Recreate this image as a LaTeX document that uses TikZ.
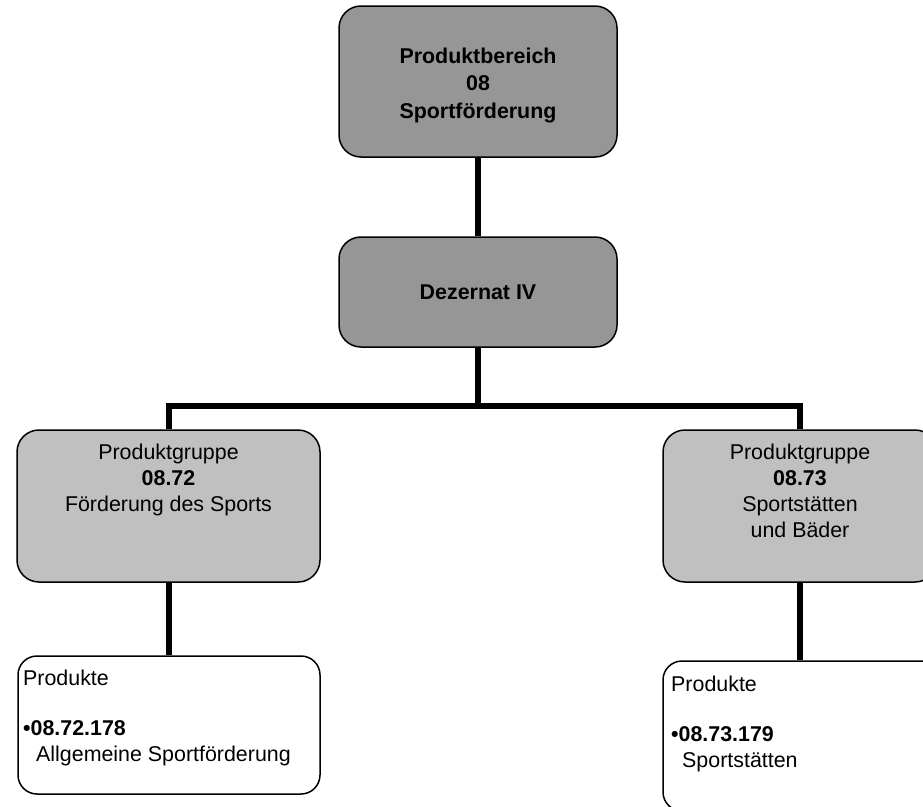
\documentclass[tikz,border=0pt]{standalone}
\usepackage{fontspec}
\setmainfont{Liberation Sans}
\definecolor{darkfill}{RGB}{150,150,150}
\definecolor{lightfill}{RGB}{192,192,192}
\begin{document}
\begin{tikzpicture}[x=1pt,y=-1pt,
  box/.style={draw=black, line width=1.5pt, rounded corners=22pt, inner sep=0pt, align=center},
  dark/.style={box, fill=darkfill, font=\bfseries\fontsize{21.4}{27.5}\selectfont},
  light/.style={box, fill=lightfill},
  prod/.style={box, fill=white, rounded corners=19pt},
  conn/.style={line width=6pt, line join=miter},
  txt/.style={font=\fontsize{21.4}{26}\selectfont, inner sep=0pt, align=center}
]
\clip (0,0) rectangle (923,806);
% boxes
\node[dark, minimum width=278pt, minimum height=151pt] (pb) at (478,81.5) {};
\node[dark, minimum width=278pt, minimum height=110pt] (dez) at (478,292) {Dezernat IV};
\node[light, minimum width=303pt, minimum height=152pt] (pgl) at (168.5,506) {};
\node[light, minimum width=274pt, minimum height=152pt] (pgr) at (800,506) {};
\node[prod, minimum width=302pt, minimum height=138pt] (prl) at (169,725) {};
\node[prod, minimum width=278pt, minimum height=150pt] (prr) at (802,736) {};
% connectors
\coordinate (bus) at (478,406);
\draw[conn] (pb.south) -- (dez.north);
\draw[conn] (dez.south) -- (bus);
\draw[conn] (pgl.north) |- (bus) -| (pgr.north);
\draw[conn] (pgl.south) -- (pgl.south |- prl.north);
\draw[conn] (pgr.south) -- (pgr.south |- prr.north);
% texts
\node[txt, font=\bfseries\fontsize{21.4}{27.5}\selectfont] (pbtxt) at (478,85.5) {Produktbereich\\08\\Sportförderung};
\node[txt, anchor=north] (pgltxt) at (168.5,443.5) {Produktgruppe\\\textbf{08.72}\\Förderung des Sports};
\node[txt, anchor=north] (pgrtxt) at (800,443.5) {Produktgruppe\\\textbf{08.73}\\Sportstätten\\und Bäder};
\node[txt, align=left, anchor=north west] (prltxt) at (23,670) {Produkte\\[24pt]\textbf{•08.72.178}\\\hspace*{13pt}Allgemeine Sportförderung};
\node[txt, align=left, anchor=north west] (prrtxt) at (671,676) {Produkte\\[24pt]\textbf{•08.73.179}\\\hspace*{11pt}Sportstätten};
\end{tikzpicture}
\end{document}
